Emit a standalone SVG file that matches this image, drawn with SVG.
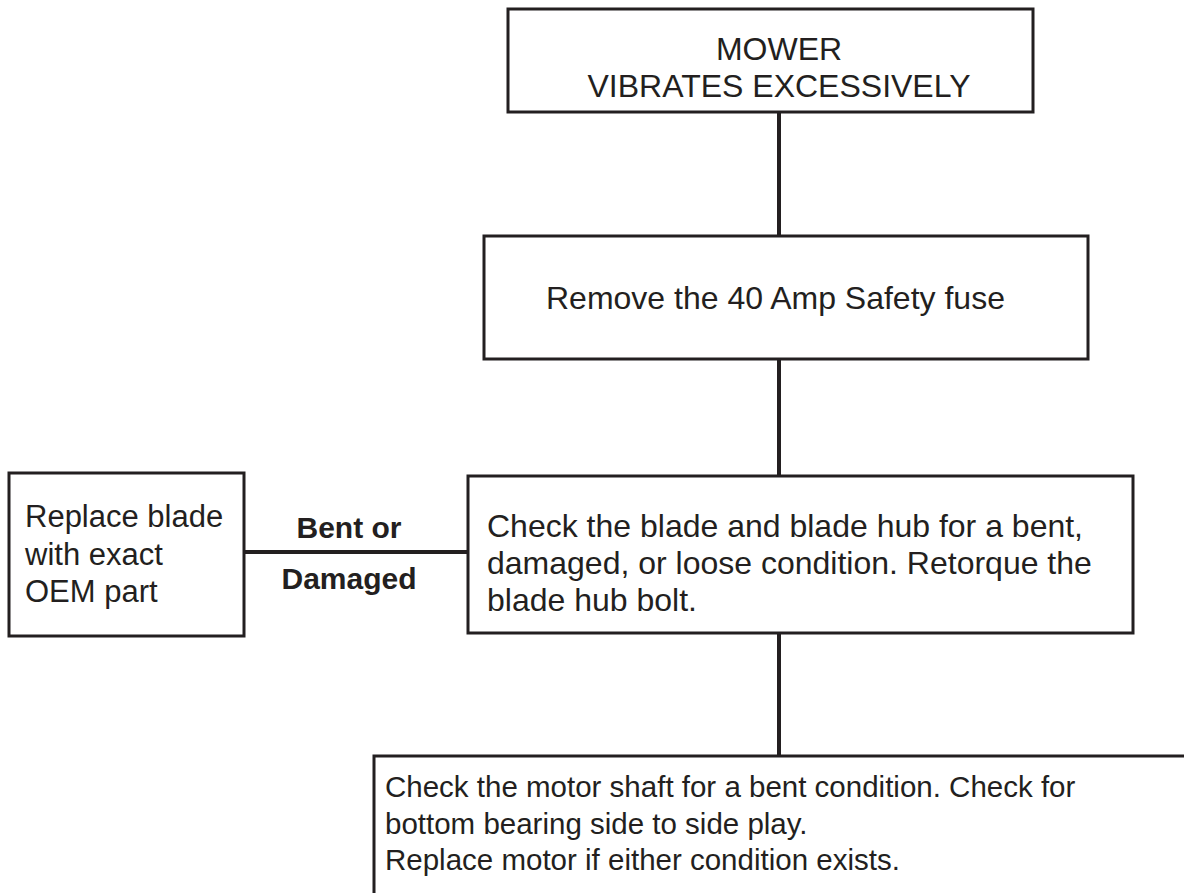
<svg xmlns="http://www.w3.org/2000/svg" width="1184" height="893" viewBox="0 0 1184 893">
<style>
.box{fill:#fff;stroke:#231f20;stroke-width:3}
.t{font-family:"Liberation Sans",Arial,Helvetica,sans-serif;font-size:32px;fill:#231f20}
.m{font-family:"Liberation Sans",Arial,Helvetica,sans-serif;font-size:31px;fill:#231f20}
.s{font-family:"Liberation Sans",Arial,Helvetica,sans-serif;font-size:29.5px;fill:#231f20}
.b{font-family:"Liberation Sans",Arial,Helvetica,sans-serif;font-size:30px;font-weight:bold;fill:#231f20}
.c{stroke:#231f20;stroke-width:4;fill:none}
</style>
<rect width="1184" height="893" fill="#fff"/>
<g id="connectors">
<line class="c" x1="779" y1="112" x2="779" y2="236"/>
<line class="c" x1="779" y1="359" x2="779" y2="476"/>
<line class="c" x1="244" y1="552" x2="468" y2="552"/>
<line class="c" x1="779" y1="633" x2="779" y2="756"/>
<text class="b" x="349" y="538" text-anchor="middle">Bent or</text>
<text class="b" x="349" y="589" text-anchor="middle">Damaged</text>
</g>
<g id="n1">
<rect class="box" x="508" y="9" width="525" height="103"/>
<text class="t" x="779" y="60" text-anchor="middle">MOWER</text>
<text class="t" x="779" y="97" text-anchor="middle">VIBRATES EXCESSIVELY</text>
</g>
<g id="n2">
<rect class="box" x="484" y="236" width="604" height="123"/>
<text class="t" x="546" y="309">Remove the 40 Amp Safety fuse</text>
</g>
<g id="n3">
<rect class="box" x="9" y="473" width="235" height="163"/>
<text class="m" x="25" y="527">Replace blade</text>
<text class="m" x="25" y="565">with exact</text>
<text class="m" x="25" y="602">OEM part</text>
</g>
<g id="n4">
<rect class="box" x="468" y="476" width="665" height="157"/>
<text class="t" x="487" y="537">Check the blade and blade hub for a bent,</text>
<text class="t" x="487" y="574">damaged, or loose condition. Retorque the</text>
<text class="t" x="487" y="611">blade hub bolt.</text>
</g>
<g id="n5">
<rect class="box" x="374" y="756" width="840" height="160"/>
<text class="s" x="385" y="797">Check the motor shaft for a bent condition. Check for</text>
<text class="s" x="385" y="834">bottom bearing side to side play.</text>
<text class="s" x="385" y="870">Replace motor if either condition exists.</text>
</g>
</svg>
